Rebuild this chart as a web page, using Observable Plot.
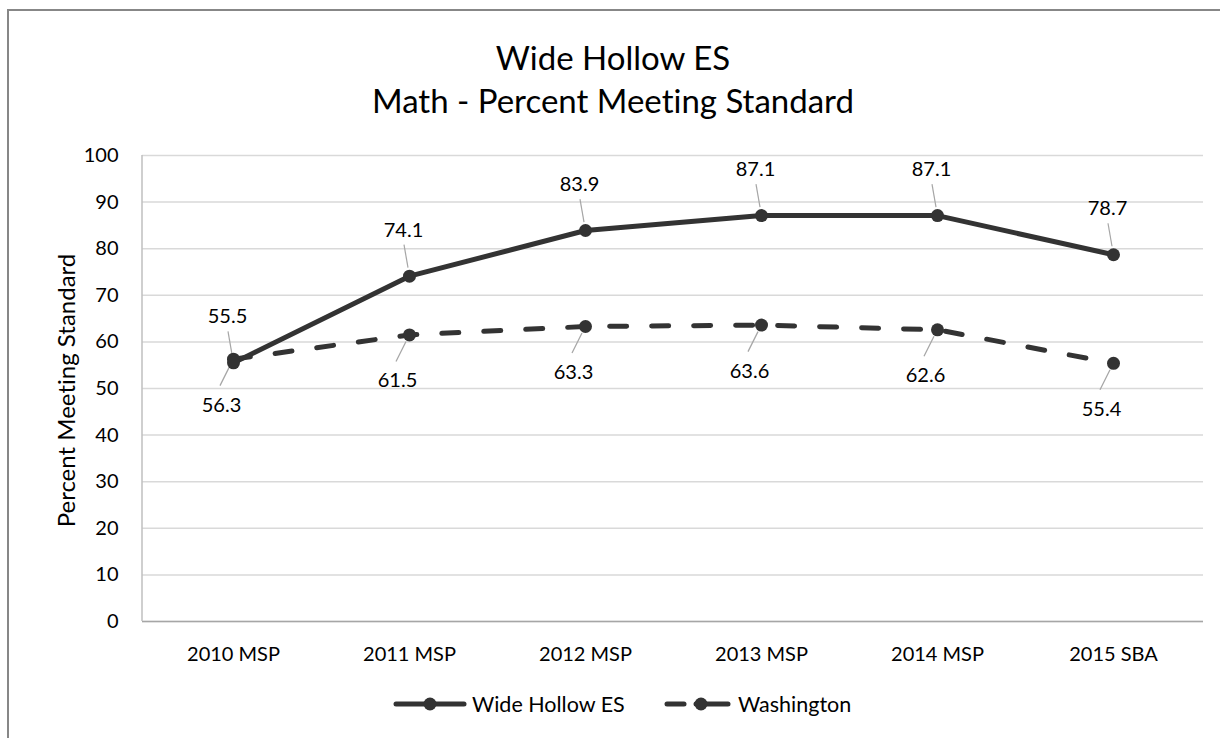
<!DOCTYPE html>
<html>
<head>
<meta charset="utf-8">
<script src="https://cdn.jsdelivr.net/npm/d3@7"></script>
<script src="https://cdn.jsdelivr.net/npm/@observablehq/plot@0.6"></script>
<style>
  html, body { margin: 0; padding: 0; background: #fff; }
  body { width: 1220px; height: 738px; overflow: hidden; position: relative; font-family: Lato, "Open Sans", sans-serif; color: #000; font-variant-ligatures: none; font-feature-settings: "liga" 0, "clig" 0; }
  svg, svg text { font-variant-ligatures: none; font-feature-settings: "liga" 0, "clig" 0; }
  #frame { position: absolute; left: 7px; top: 9px; width: 1240px; height: 760px; border-left: 2px solid #878787; border-top: 2px solid #878787; }
  #title { position: relative; height: 140px; width: 1220px; }
  #title div { position: absolute; left: 0; width: 1226px; text-align: center; font-size: 33px; line-height: 1; }
  #chart { position: relative; height: 540px; }
  #legend { position: relative; height: 58px; width: 1220px; }
  .lg { position: absolute; top: 11px; display: flex; align-items: center; font-size: 21.5px; }
  .lg svg { display: block; margin-right: 5px; }
</style>
</head>
<body>
<div id="frame"></div>
<div id="title"><div style="top:41px">Wide Hollow ES</div><div style="top:84px">Math - Percent Meeting Standard</div></div>
<div id="chart"></div>
<div id="legend"></div>
<script>
const categories = ["2010 MSP", "2011 MSP", "2012 MSP", "2013 MSP", "2014 MSP", "2015 SBA"];
const wideHollow = [55.5, 74.1, 83.9, 87.1, 87.1, 78.7];
const washington = [56.3, 61.5, 63.3, 63.6, 62.6, 55.4];
const seriesNames = ["Wide Hollow ES", "Washington"];
const yTicks = [0, 10, 20, 30, 40, 50, 60, 70, 80, 90, 100];
const yLabel = "Percent Meeting Standard";

const lineColor = "#333333";
const rowsA = categories.map((c, i) => ({cat: c, value: wideHollow[i], series: seriesNames[0]}));
const rowsB = categories.map((c, i) => ({cat: c, value: washington[i], series: seriesNames[1]}));

function leaders(index, scales, values, dimensions) {
  const g = d3.create("svg:g").attr("stroke", "#a6a6a6").attr("stroke-width", 1.2);
  for (const d of rowsA) {
    const x = scales.x(d.cat), y = scales.y(d.value);
    g.append("line").attr("x1", x - 5).attr("y1", y - 31).attr("x2", x - 1).attr("y2", y - 8);
  }
  for (const d of rowsB) {
    const x = scales.x(d.cat), y = scales.y(d.value);
    g.append("line").attr("x1", x - 13).attr("y1", y + 27).attr("x2", x - 3).attr("y2", y + 7);
  }
  g.append("line").attr("stroke", "#bfbfbf").attr("stroke-width", 1.5)
    .attr("x1", dimensions.marginLeft).attr("x2", dimensions.marginLeft)
    .attr("y1", scales.y(100)).attr("y2", scales.y(0));
  return g.node();
}

const chart = Plot.plot({
  width: 1220,
  height: 540,
  marginTop: 15,
  marginBottom: 59,
  marginLeft: 142,
  marginRight: 17,
  style: {fontFamily: "Lato, 'Open Sans', sans-serif", fontSize: "20px", color: "#000", background: "transparent", fontVariantLigatures: "none"},
  x: {type: "point", domain: categories, padding: 0.5},
  y: {domain: [0, 100]},
  marks: [
    Plot.gridY(yTicks, {stroke: "#d9d9d9", strokeOpacity: 1, strokeWidth: 1.5}),
    Plot.axisY(yTicks, {tickSize: 0, tickPadding: 24, fontSize: 20, label: null}),
    Plot.axisX({tickSize: 0, tickPadding: 25, fontSize: 20, label: null}),
    Plot.ruleY([0], {stroke: "#a6a6a6", strokeWidth: 1.5}),
    Plot.text([yLabel], {frameAnchor: "left", textAnchor: "middle", rotate: -90, dx: -75, dy: 2, fontSize: 24, fill: "#000"}),
    leaders,
    Plot.line(rowsB, {x: "cat", y: "value", stroke: lineColor, strokeWidth: 5, strokeDasharray: "17,25", strokeLinecap: "round"}),
    Plot.line(rowsA, {x: "cat", y: "value", stroke: lineColor, strokeWidth: 5, strokeLinecap: "round"}),
    Plot.dot(rowsB, {x: "cat", y: "value", r: 6.5, fill: lineColor, stroke: "none"}),
    Plot.dot(rowsA, {x: "cat", y: "value", r: 6.5, fill: lineColor, stroke: "none"}),
    Plot.text(rowsA, {x: "cat", y: "value", text: d => d.value.toFixed(1), dx: -6, dy: -46, fontSize: 20, fill: "#000"}),
    Plot.text(rowsB, {x: "cat", y: "value", text: d => d.value.toFixed(1), dx: -12, dy: 46, fontSize: 20, fill: "#000"})
  ]
});
document.getElementById("chart").appendChild(chart);

// legend
const legend = document.getElementById("legend");
function addItem(name, left, dashed) {
  const item = document.createElement("div");
  item.className = "lg";
  item.style.left = left + "px";
  const w = dashed ? 70 : 74;
  const svg = d3.create("svg").attr("width", w).attr("height", 26);
  const attrs = s => s.attr("stroke", lineColor).attr("stroke-width", 5).attr("stroke-linecap", "round").attr("y1", 13).attr("y2", 13);
  let cx;
  if (dashed) {
    attrs(svg.append("line").attr("x1", 4).attr("x2", 21));
    attrs(svg.append("line").attr("x1", 33).attr("x2", 65));
    cx = 38;
  } else {
    attrs(svg.append("line").attr("x1", 3).attr("x2", w - 3));
    cx = w / 2;
  }
  svg.append("circle").attr("cx", cx).attr("cy", 13).attr("r", 6.5).attr("fill", lineColor);
  item.appendChild(svg.node());
  const t = document.createElement("span");
  t.textContent = name;
  item.appendChild(t);
  legend.appendChild(item);
}
addItem(seriesNames[0], 393, false);
addItem(seriesNames[1], 663, true);
</script>
</body>
</html>
